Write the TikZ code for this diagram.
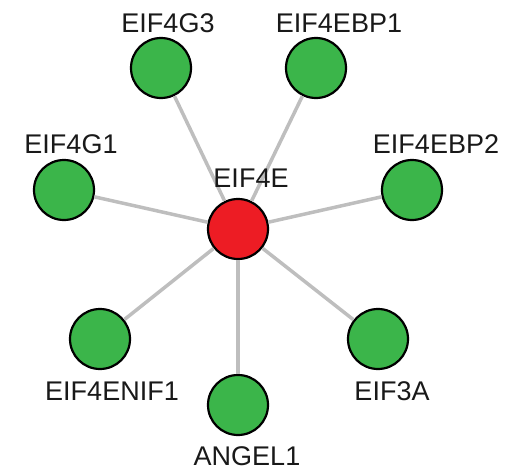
\documentclass[tikz,border=0pt]{standalone}
\usepackage{fontspec}
\setmainfont{Liberation Sans}
\definecolor{nodegreen}{RGB}{59,181,74}
\definecolor{hubred}{RGB}{237,28,36}
\definecolor{edgegray}{RGB}{190,190,190}
\definecolor{labelink}{RGB}{25,25,25}
\begin{document}
\begin{tikzpicture}[x=1pt,y=-1pt,
  protein/.style={circle,draw=black,line width=2.2pt,fill=nodegreen,minimum size=60pt,inner sep=0pt},
  hub/.style={protein,fill=hubred},
  edge/.style={draw=edgegray,line width=3.5pt},
  genelabel/.style={anchor=base,inner sep=0pt,text depth=0pt,text=labelink,font=\fontsize{27}{32}\selectfont}]
\useasboundingbox (0,0) rectangle (508,471);

% interaction partners around the hub
\node[hub]     (eif4e)    at (238,229) {};
\node[protein] (eif4g3)   at (161,68)  {};
\node[protein] (eif4ebp1) at (316,68)  {};
\node[protein] (eif4g1)   at (64,190)  {};
\node[protein] (eif4ebp2) at (412,190) {};
\node[protein] (eif4enif1) at (100,339) {};
\node[protein] (eif3a)    at (378,339) {};
\node[protein] (angel1)   at (238,405) {};

% interactions
\foreach \p in {eif4g3,eif4ebp1,eif4g1,eif4ebp2,eif4enif1,eif3a,angel1}
  \draw[edge] (eif4e) -- (\p);

% gene names
\node[genelabel] (l-eif4e)     at (251,187) {EIF4E};
\node[genelabel] (l-eif4g3)    at (168,32)  {EIF4G3};
\node[genelabel] (l-eif4ebp1)  at (339,32)  {EIF4EBP1};
\node[genelabel] (l-eif4g1)    at (71,153)  {EIF4G1};
\node[genelabel] (l-eif4ebp2)  at (436,153) {EIF4EBP2};
\node[genelabel] (l-eif4enif1) at (112,400) {EIF4ENIF1};
\node[genelabel] (l-eif3a)     at (392,400) {EIF3A};
\node[genelabel] (l-angel1)    at (247,465) {ANGEL1};
\end{tikzpicture}
\end{document}
